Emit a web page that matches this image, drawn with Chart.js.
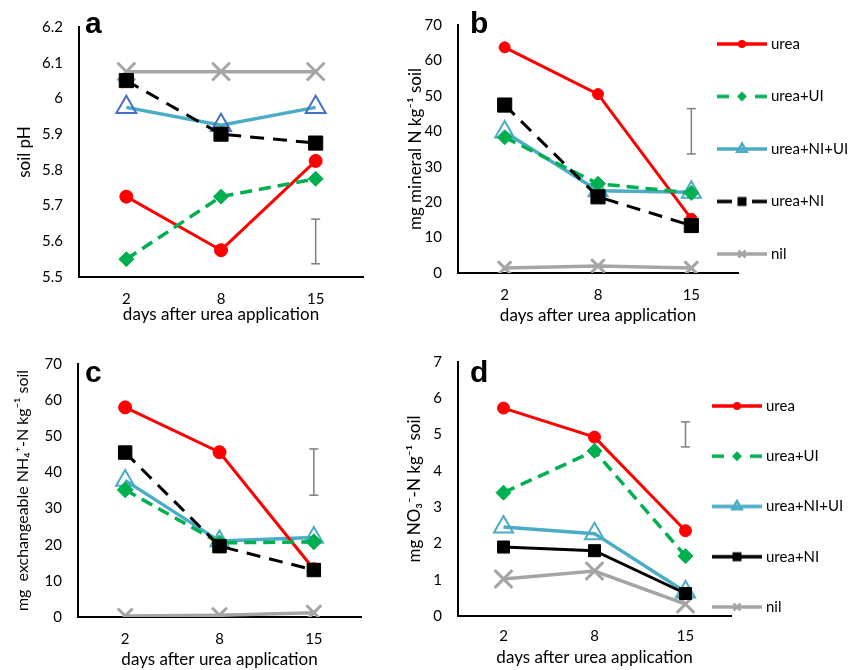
<!DOCTYPE html>
<html>
<head>
<meta charset="utf-8">
<script src="https://cdn.jsdelivr.net/npm/chart.js@4.4.0/dist/chart.umd.min.js"></script>
<style>
  body { margin: 0; background: #fff; width: 857px; height: 670px; position: relative; overflow: hidden; }
  canvas { position: absolute; }
</style>
</head>
<body>
<canvas id="pa" width="380" height="330" style="left:0;top:0"></canvas>
<canvas id="pb" width="477" height="330" style="left:380px;top:0"></canvas>
<canvas id="pc" width="380" height="340" style="left:0;top:330px"></canvas>
<canvas id="pd" width="477" height="340" style="left:380px;top:330px"></canvas>
<script>
const days = ['2', '8', '15'];
const seriesNames = ['urea', 'urea+UI', 'urea+NI+UI', 'urea+NI', 'nil'];

// a: soil pH
const phUrea = [5.725, 5.575, 5.825];
const phUreaUI = [5.55, 5.725, 5.775];
const phUreaNIUI = [5.975, 5.925, 5.975];
const phUreaNI = [6.05, 5.9, 5.875];
const phNil = [6.075, 6.075, 6.075];
const phLsd = [5.537, 5.662];
const phTicks = ['5.5', '5.6', '5.7', '5.8', '5.9', '6', '6.1', '6.2'];

// b: mineral N
const minUrea = [63.7, 50.5, 15.3];
const minUreaUI = [38.3, 25.2, 22.6];
const minUreaNIUI = [39.8, 23.2, 22.8];
const minUreaNI = [47.4, 21.5, 13.4];
const minNil = [1.4, 2.0, 1.4];
const minLsd = [33.6, 46.4];

// c: exchangeable NH4+-N
const nh4Urea = [58.0, 45.6, 13.2];
const nh4UreaUI = [35.2, 20.5, 20.8];
const nh4UreaNIUI = [37.8, 21.0, 22.0];
const nh4UreaNI = [45.5, 19.6, 13.0];
const nh4Nil = [0.3, 0.5, 1.2];
const nh4Lsd = [33.7, 46.5];
const nTicks = ['0', '10', '20', '30', '40', '50', '60', '70'];

// d: NO3--N
const no3Urea = [5.73, 4.93, 2.35];
const no3UreaUI = [3.4, 4.55, 1.65];
const no3UreaNIUI = [2.45, 2.27, 0.66];
const no3UreaNI = [1.9, 1.8, 0.62];
const no3Nil = [1.02, 1.24, 0.33];
const no3Lsd = [4.66, 5.35];
const no3Ticks = ['0', '1', '2', '3', '4', '5', '6', '7'];

Chart.defaults.font.family = "Lato, 'Open Sans', sans-serif";
Chart.defaults.color = '#000';
Chart.defaults.animation = false;

const RED = '#FF0000', GREEN = '#00B050', TEAL = '#4BACC6', BLUE = '#4472C4';
const BLACK = '#000000', GREY = '#A5A5A5', BAR = '#7F7F7F';

function marker(g, style, x, y, r) {
    g.beginPath();
    if (style === 'circle') {
        g.arc(x, y, r, 0, Math.PI * 2);
    } else if (style === 'diamond') {
        g.moveTo(x - r, y); g.lineTo(x, y - r); g.lineTo(x + r, y); g.lineTo(x, y + r); g.closePath();
    } else if (style === 'triangle') {
        g.moveTo(x, y - r); g.lineTo(x + r * 0.866, y + r / 2); g.lineTo(x - r * 0.866, y + r / 2); g.closePath();
    } else if (style === 'square') {
        g.rect(x - r, y - r, 2 * r, 2 * r);
    } else {
        g.moveTo(x - r, y - r); g.lineTo(x + r, y + r);
        g.moveTo(x + r, y - r); g.lineTo(x - r, y + r);
    }
}

// little line + marker picture used as the legend symbol
function legendSample(color, dash, style, r, filled) {
    const c = document.createElement('canvas');
    c.width = 50;
    c.height = 16;
    const g = c.getContext('2d');
    g.strokeStyle = color;
    g.fillStyle = color;
    g.lineWidth = 3.5;
    g.setLineDash(dash);
    g.beginPath();
    g.moveTo(0, 8);
    g.lineTo(50, 8);
    g.stroke();
    g.setLineDash([]);
    marker(g, style, 25, 8, r);
    if (filled) {
        g.fill();
    } else {
        g.lineWidth = 2.5;
        g.stroke();
    }
    return c;
}

function samples(blackDashed) {
    return [
        legendSample(RED, [], 'circle', 4, true),
        legendSample(GREEN, [12, 26], 'diamond', 5, true),
        legendSample(TEAL, [], 'triangle', 5.5, false),
        legendSample(BLACK, blackDashed ? [15, 20] : [], 'square', 4.5, true),
        legendSample(GREY, [], 'cross', 3.5, false)
    ];
}

const panelLetter = {
    id: 'panelLetter',
    afterDraw(chart, args, opts) {
        const { ctx } = chart;
        ctx.save();
        ctx.font = "bold 30px 'Liberation Sans', Arial, sans-serif";
        ctx.fillStyle = '#000';
        ctx.fillText(opts.text, opts.x, opts.y);
        ctx.restore();
    }
};

// move the legend block to where the original has it (it overlaps the plot edge)
const legendPlace = {
    id: 'legendPlace',
    afterLayout(chart, args, opts) {
        const lg = chart.legend;
        if (!lg || !opts.imgX) return;
        const pad = opts.pad;
        const dx = (opts.imgX + 25 - opts.psw / 2) - (lg.left + pad);
        const dy = (opts.y - opts.size / 2) - (lg.top + pad);
        lg.left += dx;
        lg.top += dy;
    }
};

function drawPanel(id, p) {
    const ctx = document.getElementById(id).getContext('2d');
    const sz = p.sizes;
    const legendSamples = samples(p.blackDash.length > 0);
    const tickLabel = v => p.ticks[Math.round((v - p.min) / p.step)];

    new Chart(ctx, {
        type: 'line',
        data: {
            labels: days,
            datasets: [
                {
                    label: seriesNames[0], data: p.values[0], order: 2,
                    borderColor: RED, backgroundColor: RED, borderWidth: 3,
                    pointStyle: 'circle', pointRadius: sz[0], pointBorderWidth: 1
                },
                {
                    label: seriesNames[1], data: p.values[1], order: 1,
                    borderColor: GREEN, backgroundColor: GREEN, borderWidth: 3.5, borderDash: [12, 7],
                    pointStyle: 'rectRot', pointRadius: sz[1], pointBorderWidth: 1
                },
                {
                    label: seriesNames[2], data: p.values[2], order: 3,
                    borderColor: TEAL, backgroundColor: 'rgba(255,255,255,0)', borderWidth: 3.5,
                    pointBorderColor: p.triColor, pointStyle: 'triangle', pointRadius: sz[2], pointBorderWidth: 2
                },
                {
                    label: seriesNames[3], data: p.values[3], order: 0,
                    borderColor: BLACK, backgroundColor: BLACK, borderWidth: 3, borderDash: p.blackDash,
                    pointStyle: 'rect', pointRadius: sz[3], pointBorderWidth: 1
                },
                {
                    label: seriesNames[4], data: p.values[4], order: 4,
                    borderColor: GREY, backgroundColor: GREY, borderWidth: 3.5,
                    pointStyle: 'crossRot', pointRadius: sz[4], pointBorderWidth: 3
                },
                {
                    label: 'LSD', order: 5,
                    data: [{ x: '15', y: p.lsd[0] }, { x: '15', y: p.lsd[1] }],
                    borderColor: BAR, backgroundColor: BAR, borderWidth: 1.5,
                    pointStyle: 'line', pointRadius: 4.5, pointBorderWidth: 1.5
                }
            ]
        },
        options: {
            responsive: false,
            layout: {
                padding: { left: 0, top: p.top, right: p.right, bottom: 0 }
            },
            scales: {
                x: {
                    offset: true,
                    grid: { display: false, drawTicks: false },
                    border: { display: true, color: '#000', width: 2 },
                    ticks: { padding: p.xTickPad, font: { size: 15 } },
                    title: {
                        display: true,
                        text: 'days after urea application',
                        font: { size: 17 },
                        padding: { top: 0, bottom: p.xTitlePad }
                    },
                    afterFit: s => { s.height = p.xHeight; }
                },
                y: {
                    min: p.min,
                    max: p.max,
                    grid: { display: false, drawTicks: false },
                    border: { display: true, color: '#000', width: 2 },
                    ticks: { stepSize: p.step, padding: 16, font: { size: 15 }, callback: tickLabel },
                    title: {
                        display: true,
                        text: p.yTitle,
                        font: { size: p.yTitleSize },
                        padding: { top: p.yTitlePad, bottom: 0 }
                    },
                    afterFit: s => { s.width = p.yWidth; }
                }
            },
            plugins: {
                tooltip: { enabled: false },
                legend: p.legend ? {
                    display: true,
                    position: 'right',
                    align: 'start',
                    maxWidth: p.legend.maxWidth,
                    labels: {
                        usePointStyle: true,
                        pointStyleWidth: 43,
                        padding: p.legend.pad,
                        font: { size: 15 },
                        generateLabels: () => seriesNames.map((name, i) => ({
                            text: name,
                            datasetIndex: i,
                            pointStyle: legendSamples[i],
                            fillStyle: 'rgba(0,0,0,0)',
                            strokeStyle: 'rgba(0,0,0,0)',
                            lineWidth: 0,
                            hidden: false
                        }))
                    }
                } : { display: false },
                legendPlace: p.legend ? {
                    imgX: p.legend.imgX, y: p.legend.y, pad: p.legend.pad, psw: 43, size: 15
                } : {},
                panelLetter: p.letter
            }
        },
        plugins: [legendPlace, panelLetter]
    });
}

drawPanel('pa', {
    values: [phUrea, phUreaUI, phUreaNIUI, phUreaNI, phNil],
    lsd: phLsd, ticks: phTicks, min: 5.5, max: 6.2, step: 0.1,
    yTitle: 'soil pH', yTitleSize: 17,
    sizes: [6.5, 7.5, 11.5, 10, 12.5],
    triColor: BLUE, blackDash: [14, 9],
    top: 27, right: 17, yWidth: 79, xHeight: 53,
    xTickPad: 13, xTitlePad: 4.8, yTitlePad: 14.8,
    letter: { text: 'a', x: 85, y: 33 }
});

drawPanel('pb', {
    values: [minUrea, minUreaUI, minUreaNIUI, minUreaNI, minNil],
    lsd: minLsd, ticks: nTicks, min: 0, max: 70, step: 10,
    yTitle: 'mg mineral N kg⁻¹ soil', yTitleSize: 17,
    sizes: [5.5, 7.5, 11, 10, 9.5],
    triColor: TEAL, blackDash: [14, 9],
    top: 17, right: 0, yWidth: 78, xHeight: 57,
    xTickPad: 13, xTitlePad: 3.8, yTitlePad: 25.8,
    legend: { maxWidth: 119, pad: 37.5, imgX: 337, y: 44 },
    letter: { text: 'b', x: 90, y: 33 }
});

drawPanel('pc', {
    values: [nh4Urea, nh4UreaUI, nh4UreaNIUI, nh4UreaNI, nh4Nil],
    lsd: nh4Lsd, ticks: nTicks, min: 0, max: 70, step: 10,
    yTitle: 'mg  exchangeable NH₄⁺-N kg⁻¹ soil', yTitleSize: 16,
    sizes: [6.5, 8, 10.5, 9.5, 10.5],
    triColor: TEAL, blackDash: [14, 9],
    top: 34, right: 19, yWidth: 78, xHeight: 53,
    xTickPad: 13, xTitlePad: 0, yTitlePad: 13.4,
    letter: { text: 'c', x: 85, y: 52 }
});

drawPanel('pd', {
    values: [no3Urea, no3UreaUI, no3UreaNIUI, no3UreaNI, no3Nil],
    lsd: no3Lsd, ticks: no3Ticks, min: 0, max: 7, step: 1,
    yTitle: 'mg NO₃⁻-N kg⁻¹ soil', yTitleSize: 17,
    sizes: [6, 7.5, 11, 8.5, 12.5],
    triColor: TEAL, blackDash: [],
    top: 32, right: 0, yWidth: 78, xHeight: 54,
    xTickPad: 11, xTitlePad: 1.8, yTitlePad: 24.8,
    legend: { maxWidth: 126, pad: 35.25, imgX: 332, y: 76 },
    letter: { text: 'd', x: 90, y: 52 }
});
</script>
</body>
</html>
